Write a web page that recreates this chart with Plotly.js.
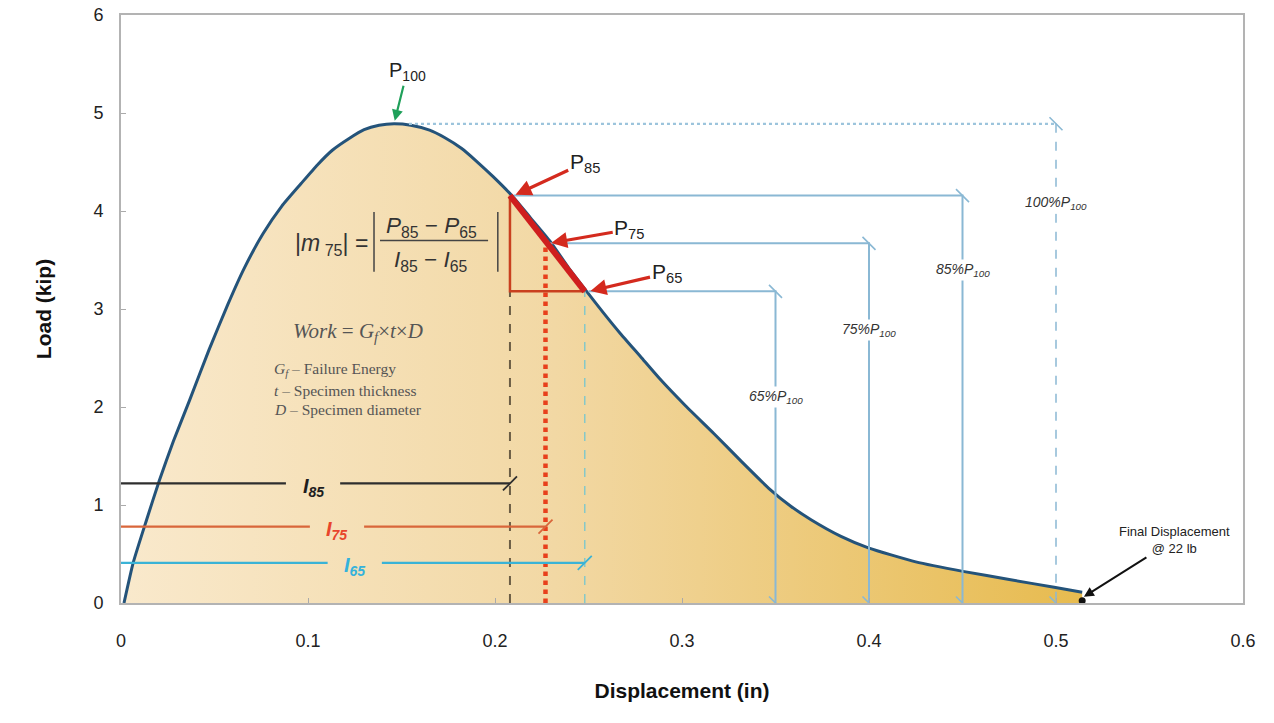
<!DOCTYPE html>
<html>
<head>
<meta charset="utf-8">
<script src="https://cdn.plot.ly/plotly-3.0.1.min.js"></script>
<style>html,body{margin:0;padding:0;background:#fff;}#chart{width:1274px;height:723px;}</style>
</head>
<body>
<div id="chart"></div>
<script>
// ---- data ----
const disp = [0.0016, 0.0065, 0.0137, 0.0205, 0.028, 0.0367, 0.047, 0.0572, 0.066, 0.076, 0.086, 0.0963, 0.105, 0.113, 0.122, 0.130, 0.138, 0.146, 0.155, 0.165, 0.173, 0.182, 0.190, 0.199, 0.209, 0.219, 0.2295, 0.239, 0.249, 0.258, 0.267, 0.278, 0.288, 0.302, 0.317, 0.332, 0.347, 0.358, 0.369, 0.385, 0.400, 0.425, 0.451, 0.475, 0.499, 0.514];
const load = [0, 0.41, 0.85, 1.25, 1.65, 2.07, 2.58, 3.05, 3.42, 3.77, 4.05, 4.28, 4.47, 4.62, 4.74, 4.83, 4.875, 4.89, 4.875, 4.825, 4.75, 4.64, 4.51, 4.35, 4.157, 3.93, 3.69, 3.43, 3.18, 2.96, 2.75, 2.51, 2.29, 2.01, 1.73, 1.44, 1.16, 0.99, 0.85, 0.68, 0.56, 0.42, 0.32, 0.24, 0.16, 0.11];
const peakDisp = 0.146;
const peakLoad = 4.89;
const levelNames = ["85", "75", "65"];
const levelDisp = [0.208, 0.227, 0.248];     // I85, I75, I65
const levelLoad = [4.157, 3.67, 3.18];       // P85, P75, P65
const boxDisp = [0.45, 0.40, 0.35];          // 85%, 75%, 65% P100 reference lines
const fullDisp = 0.50;                       // 100% P100 reference line
const finalDisp = 0.514;
const finalLoad = 0.022;
const xTicks = [0, 0.1, 0.2, 0.3, 0.4, 0.5, 0.6];
const yTicks = [0, 1, 2, 3, 4, 5, 6];

// ---- styling ----
const FONT = "Arial, 'Liberation Sans', sans-serif";
const SERIF = "'Liberation Serif', 'Times New Roman', serif";
const refBlue = "#8ab8d4";
const iColors = ["#2e2e2e", "#d9663a", "#3ab3d6"];
const iLabelColors = ["#1e1e1e", "#e8452c", "#34b2dc"];
const iLineY = [1.22, 0.78, 0.41];
const iLabelX = [0.1027, 0.1155, 0.125];
const iGap = 0.0145;
const vColors = ["#6b5d45", "#e8401c", "#86c8c8"];

const traces = [];

// filled curve
traces.push({
  x: disp, y: load, type: "scatter", mode: "lines",
  line: {color: "#24537a", width: 3, shape: "spline", smoothing: 0.5},
  fill: "tozeroy",
  fillgradient: {type: "horizontal", colorscale: [[0, "#f9e9cc"], [0.45, "#f2d8a4"], [1, "#e7bb4f"]]},
  hoverinfo: "skip"
});

// vertical lines at I85, I75, I65
const vStyles = [
  {color: vColors[0], width: 2, dash: "dash"},
  {color: vColors[1], width: 4.5, dash: "dot"},
  {color: vColors[2], width: 1.5, dash: "dash"}
];
const vTops = [levelLoad[2], levelLoad[1], levelLoad[2]];
levelDisp.forEach((d, i) => {
  traces.push({x: [d, d], y: [0, vTops[i]], mode: "lines", line: vStyles[i], hoverinfo: "skip"});
});

// reference lines for 85/75/65 %
levelLoad.forEach((p, i) => {
  traces.push({x: [levelDisp[i] + 0.002, boxDisp[i], boxDisp[i]], y: [p, p, 0], mode: "lines",
    line: {color: refBlue, width: 2}, hoverinfo: "skip"});
  traces.push({x: [boxDisp[i], boxDisp[i]], y: [p, 0], mode: "markers",
    marker: {symbol: "line-nw", size: 13, line: {color: refBlue, width: 1.6}}, hoverinfo: "skip"});
});
// 100 % line
traces.push({x: [peakDisp + 0.008, fullDisp], y: [peakLoad, peakLoad], mode: "lines",
  line: {color: "#9cc4dc", width: 2.2, dash: "dot"}, hoverinfo: "skip"});
traces.push({x: [fullDisp, fullDisp], y: [peakLoad, 0], mode: "lines",
  line: {color: refBlue, width: 1.5, dash: "dash"}, hoverinfo: "skip"});
traces.push({x: [fullDisp, fullDisp], y: [peakLoad, 0], mode: "markers",
  marker: {symbol: "line-nw", size: 13, line: {color: refBlue, width: 1.6}}, hoverinfo: "skip"});

// red triangle
traces.push({x: [levelDisp[0], levelDisp[0], levelDisp[2]], y: [levelLoad[0], levelLoad[2], levelLoad[2]],
  mode: "lines", line: {color: "#c9401f", width: 2.5}, hoverinfo: "skip"});
traces.push({x: [levelDisp[0], levelDisp[2]], y: [levelLoad[0], levelLoad[2]],
  mode: "lines", line: {color: "#cf1e1e", width: 6}, hoverinfo: "skip"});

// I dimension lines (with a gap for the label)
levelDisp.forEach((d, i) => {
  traces.push({x: [-0.003, iLabelX[i] - iGap, null, iLabelX[i] + iGap, d], y: [iLineY[i], iLineY[i], null, iLineY[i], iLineY[i]],
    mode: "lines", line: {color: iColors[i], width: 2.2}, connectgaps: false,
    cliponaxis: false, hoverinfo: "skip"});
  traces.push({x: [-0.003, d], y: [iLineY[i], iLineY[i]], mode: "markers",
    marker: {symbol: "line-ne", size: 14, line: {color: iColors[i], width: 1.8}},
    cliponaxis: false, hoverinfo: "skip"});
});

// final displacement dot
traces.push({x: [finalDisp], y: [finalLoad], mode: "markers",
  marker: {color: "#111", size: 7}, cliponaxis: false, hoverinfo: "skip"});

const annotations = [];
// P labels with red arrows
const pOffsets = [[71, -33], [80, -14], [78, -18]];
levelNames.forEach((n, i) => {
  annotations.push({x: levelDisp[i] + 0.002, y: levelLoad[i], text: "P<sub>" + n + "</sub>",
    showarrow: true, ax: pOffsets[i][0], ay: pOffsets[i][1],
    arrowcolor: "#d42a1e", arrowwidth: 3.2, arrowhead: 2, arrowsize: 1, standoff: 2,
    font: {family: FONT, size: 21, color: "#222"}});
});
// P100 label
annotations.push({x: peakDisp, y: peakLoad, text: "P<sub>100</sub>", showarrow: true, ax: 13, ay: -52,
  arrowcolor: "#1fa05a", arrowwidth: 2.2, arrowhead: 2, arrowsize: 1, standoff: 3,
  font: {family: FONT, size: 20, color: "#222"}});

// percentage labels
const pctY = [3.40, 2.79, 2.10];
levelNames.forEach((n, i) => {
  annotations.push({x: boxDisp[i], y: pctY[i], text: "<i>" + n + "%P</i><sub><i>100</i></sub>",
    showarrow: false, bgcolor: "#ffffff", borderpad: 1,
    font: {family: FONT, size: 14, color: "#333"}});
});
annotations.push({x: fullDisp, y: 4.08, text: "<i>100%P</i><sub><i>100</i></sub>",
  showarrow: false, bgcolor: "#ffffff", borderpad: 1,
  font: {family: FONT, size: 14, color: "#333"}});

// I labels
levelNames.forEach((n, i) => {
  annotations.push({x: iLabelX[i], y: iLineY[i] - 0.04,
    text: "<b><i>I</i></b><sub><b><i>" + n + "</i></b></sub>",
    showarrow: false, font: {family: FONT, size: 20, color: iLabelColors[i]}});
});

// slope formula
annotations.push({x: 0.1125, y: 3.66, text: "|<i>m</i><sub> 75</sub>| =", showarrow: false,
  font: {family: FONT, size: 23, color: "#333"}});
annotations.push({x: 0.1662, y: 3.84, text: "<i>P</i><sub>85</sub> − <i>P</i><sub>65</sub>", showarrow: false,
  font: {family: FONT, size: 22.5, color: "#333"}});
annotations.push({x: 0.1655, y: 3.49, text: "<i>I</i><sub>85</sub> − <i>I</i><sub>65</sub>", showarrow: false,
  font: {family: FONT, size: 22.5, color: "#333"}});

// work formula
annotations.push({x: 0.1265, y: 2.77, text: "<i>Work</i> = <i>G<sub>f</sub></i>×<i>t</i>×<i>D</i>", showarrow: false,
  font: {family: SERIF, size: 21, color: "#555"}});
const workLines = ["<i>G<sub>f</sub></i> – Failure Energy", "<i>t</i> – Specimen thickness", "<i>D</i> – Specimen diameter"];
const workY = [2.38, 2.17, 1.97];
workLines.forEach((t, i) => {
  annotations.push({x: 0.0805, y: workY[i], xanchor: "left", text: t, showarrow: false,
    font: {family: SERIF, size: 15.5, color: "#555"}});
});

// final displacement
annotations.push({x: finalDisp, y: finalLoad + 0.03, text: "Final Displacement<br>@ 22 lb", showarrow: true,
  ax: 92, ay: -58, arrowcolor: "#111", arrowwidth: 2, arrowhead: 2, arrowsize: 1, standoff: 2,
  font: {family: FONT, size: 13, color: "#222"}});

const shapes = [
  {type: "line", xref: "x", yref: "y", x0: 0.1385, x1: 0.1963, y0: 3.70, y1: 3.70, line: {color: "#444", width: 1.5}},
  {type: "line", xref: "x", yref: "y", x0: 0.1353, x1: 0.1353, y0: 3.38, y1: 3.99, line: {color: "#444", width: 1.5}},
  {type: "line", xref: "x", yref: "y", x0: 0.2015, x1: 0.2015, y0: 3.38, y1: 3.99, line: {color: "#444", width: 1.5}}
];

const layout = {
  width: 1274, height: 723,
  margin: {l: 121, r: 31, t: 15, b: 120},
  paper_bgcolor: "#ffffff", plot_bgcolor: "#ffffff",
  showlegend: false,
  font: {family: FONT, color: "#222"},
  xaxis: {
    range: [0, 0.6], tickvals: xTicks, ticktext: xTicks.map(String),
    showgrid: false, zeroline: false, showline: true, mirror: true,
    linecolor: "#b3b3b3", linewidth: 2, ticks: "inside", ticklen: 5, tickcolor: "#aaa",
    tickfont: {family: FONT, size: 18, color: "#222"}, ticklabelstandoff: 20,
    title: {text: "<b>Displacement (in)</b>", font: {family: FONT, size: 21, color: "#111"}, standoff: 34}
  },
  yaxis: {
    range: [0, 6], tickvals: yTicks, ticktext: yTicks.map(String),
    showgrid: false, zeroline: false, showline: true, mirror: true,
    linecolor: "#b3b3b3", linewidth: 2, ticks: "inside", ticklen: 5, tickcolor: "#aaa",
    tickfont: {family: FONT, size: 18, color: "#222"}, ticklabelstandoff: 12,
    title: {text: "<b>Load (kip)</b>", font: {family: FONT, size: 21, color: "#111"}, standoff: 36}
  },
  annotations: annotations,
  shapes: shapes
};

Plotly.newPlot("chart", traces, layout, {staticPlot: true, displayModeBar: false});
</script>
</body>
</html>
